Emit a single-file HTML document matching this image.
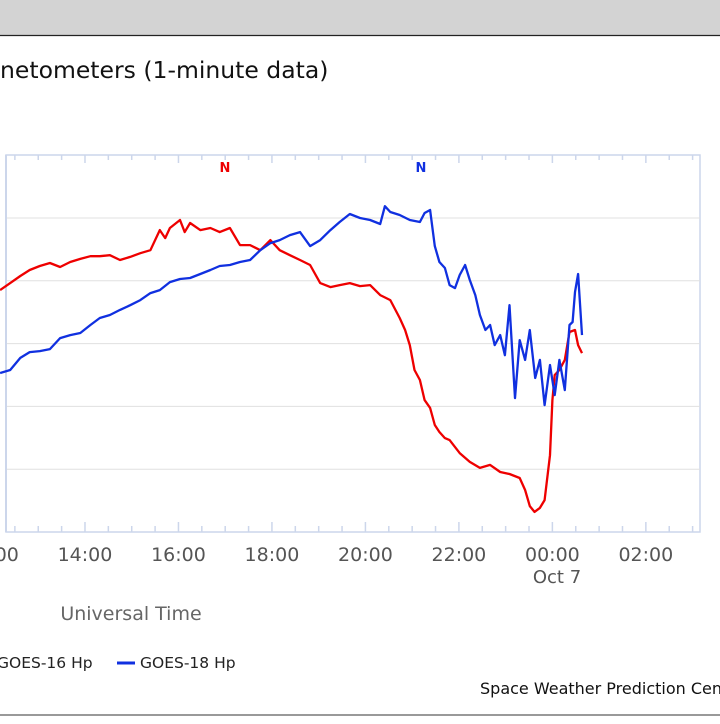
<!DOCTYPE html>
<html><head><meta charset="utf-8"><style>
body{margin:0;width:720px;height:720px;overflow:hidden;background:#fff;font-family:"DejaVu Sans","Liberation Sans",sans-serif;}
</style></head><body>
<svg width="720" height="720" xmlns="http://www.w3.org/2000/svg">
<rect x="0" y="0" width="720" height="35" fill="#d3d3d3"/>
<line x1="0" y1="35.5" x2="720" y2="35.5" stroke="#222" stroke-width="1.2"/>
<text x="0" y="78" font-size="23.5" fill="#111">netometers (1‑minute data)</text>
<g id="grid"></g>
<g id="axes"></g>
<text x="225" y="172" font-size="13" font-weight="bold" fill="#e00" text-anchor="middle">N</text>
<text x="421" y="172" font-size="13" font-weight="bold" fill="#1030e0" text-anchor="middle">N</text>
<g id="series"></g>
<text x="557" y="583" font-size="18" fill="#555" text-anchor="middle">Oct 7</text>
<text x="131" y="620" font-size="19" fill="#666" text-anchor="middle">Universal Time</text>
<g><text x="-3" y="668" font-size="15.5" fill="#222">GOES-16 Hp</text></g>
<g><line x1="117" y1="663" x2="135" y2="663" stroke="#1030e0" stroke-width="3"/><text x="140" y="668" font-size="15.5" fill="#222">GOES-18 Hp</text></g>
<text x="480" y="694" font-size="16" fill="#111">Space Weather Prediction Cen</text>
<line x1="0" y1="715" x2="720" y2="715" stroke="#999" stroke-width="2"/>
</svg>
<script>
const ticksHours=["12:00","14:00","16:00","18:00","20:00","22:00","00:00","02:00"];
const gridValues=[25,50,75,100,125];
const g16Minutes=[11,24,37,49,62,75,88,101,114,127,139,152,165,178,191,204,216,223,229,242,248,255,268,281,293,306,319,332,345,358,370,383,396,409,422,435,447,460,473,486,499,512,524,531,537,543,550,556,563,569,575,582,588,601,614,627,640,653,665,678,685,691,697,704,710,717,720,723,729,736,742,749,753,758];
const g16Values=[96.3,99.1,101.9,104.3,105.9,107.1,105.5,107.5,108.7,109.8,109.8,110.2,108.3,109.5,111.0,112.2,120.2,117.0,121.0,124.2,119.4,123.0,120.2,121.0,119.4,121.0,114.2,114.2,112.2,116.2,112.2,110.2,108.3,106.3,99.1,97.5,98.3,99.1,97.9,98.3,94.3,92.3,85.2,80.4,74.4,64.5,60.5,52.5,49.4,42.6,39.8,37.4,36.6,31.4,27.9,25.5,26.7,23.9,23.1,21.5,16.7,10.3,8.0,9.6,12.7,30.6,52.5,62.5,64.5,68.5,79.6,80.4,74.4,71.2];
const g18Minutes=[11,24,37,49,62,75,88,101,114,127,139,152,165,178,191,204,216,229,242,255,268,281,293,306,319,332,345,358,370,383,396,409,422,435,447,460,473,486,499,505,512,524,537,550,556,563,569,575,582,588,595,601,608,614,621,627,634,640,646,653,659,665,672,678,685,691,698,704,710,717,723,729,736,742,746,749,753,758];
const g18Values=[63.3,64.5,69.3,71.6,72.0,72.8,77.2,78.4,79.2,82.4,85.2,86.4,88.4,90.3,92.3,95.1,96.3,99.5,100.7,101.1,102.7,104.3,105.9,106.3,107.5,108.3,112.2,115.0,116.2,118.2,119.4,113.8,116.2,120.2,123.4,126.6,125.0,124.2,122.6,129.7,127.4,126.2,124.2,123.4,127.0,128.2,113.8,107.5,105.1,98.3,97.1,102.3,106.3,100.3,94.3,86.4,80.4,82.4,74.4,78.4,70.4,90.3,53.3,76.4,68.5,80.4,61.3,68.5,50.5,66.5,54.5,68.5,56.5,82.4,83.6,95.5,102.7,78.4];
const NS="http://www.w3.org/2000/svg";
const X0=6,X1=700,Y0=155,Y1=532;
function xs(m){return -8.5+m*0.779;}
function ys(v){return 532-v*2.512;}
function mk(tag,attrs,parent){const e=document.createElementNS(NS,tag);for(const k in attrs)e.setAttribute(k,attrs[k]);parent.appendChild(e);return e;}
const grid=document.getElementById('grid'),axes=document.getElementById('axes'),series=document.getElementById('series');
mk('rect',{x:X0,y:Y0,width:X1-X0,height:Y1-Y0,fill:'none',stroke:'#ccd6eb','stroke-width':1.5},grid);
gridValues.forEach(v=>{
 const l=mk('line',{x1:X0,x2:X1,y1:ys(v),y2:ys(v),stroke:'#e0e0e0','stroke-width':1},grid);
 
 
});
mk('line',{x1:X0,x2:X0,y1:Y0,y2:Y1,stroke:'#ccd6eb','stroke-width':2},axes);
for(let m=0;m<=930;m+=30){
 const x=xs(m);if(x<X0||x>X1)continue;
 const major=m%120===0;
 mk('line',{x1:x,x2:x,y1:Y1,y2:Y1-(major?10:6),stroke:'#ccd6eb','stroke-width':1.5},axes);
 mk('line',{x1:x,x2:x,y1:Y0,y2:Y0+(major?8:5),stroke:'#ccd6eb','stroke-width':1.5},axes);
}
ticksHours.forEach((t,i)=>{
 const tx=mk('text',{x:xs(i*120),y:561,'font-size':19,fill:'#555','text-anchor':'middle'},axes);
 tx.textContent=t;
 
 
});
function line(ms,vs,color,name){
 const d=ms.map((m,i)=>(i?'L':'M')+xs(m).toFixed(1)+' '+ys(vs[i]).toFixed(1)).join(' ');
 const p=mk('path',{d:d,fill:'none',stroke:color,'stroke-width':2.3,'stroke-linejoin':'round'},series);
 
 
}
line(g16Minutes,g16Values,'#ee0000','goes16-line');
line(g18Minutes,g18Values,'#1030e0','goes18-line');
</script>
</body></html>
